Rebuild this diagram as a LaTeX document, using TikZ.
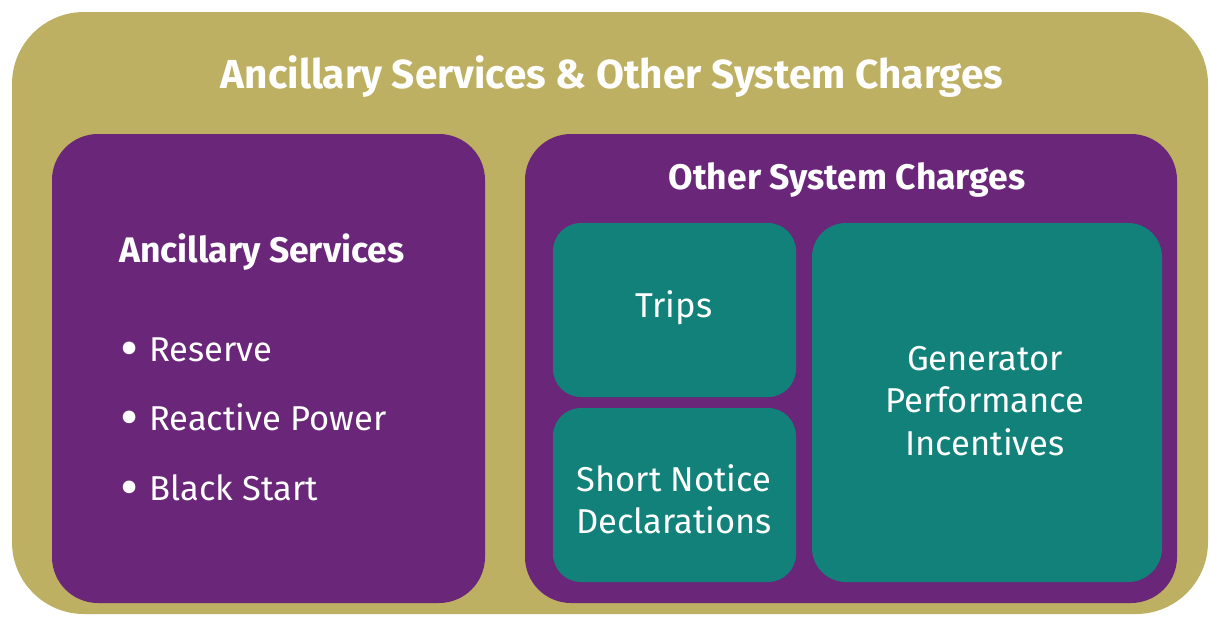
\documentclass[tikz,border=0pt]{standalone}
\usepackage{fontspec}
\setmainfont{Fira Sans}
\definecolor{gold}{HTML}{BDB062}
\definecolor{plum}{HTML}{6A2679}
\definecolor{teal}{HTML}{12817A}
% a larger list bullet, set on the x-height middle
\newcommand\listdot{\raisebox{-0.2em}{\fontsize{56}{56}\selectfont\textbullet}\hspace{11pt}}
\begin{document}
\begin{tikzpicture}[x=1pt,y=-1pt,
  panel/.style={fill=#1, draw=none},
  head/.style={text=white, font=\bfseries\fontsize{40.5}{46}\selectfont, anchor=center, inner sep=0pt},
  sub/.style={text=white, font=\bfseries\fontsize{35.5}{40}\selectfont, anchor=center, inner sep=0pt},
  body/.style={text=white, font=\fontsize{34.5}{42.5}\selectfont, align=center, anchor=center, inner sep=0pt},
  item/.style={text=white, font=\fontsize{34.5}{40}\selectfont, anchor=base west, inner sep=0pt}]
  \useasboundingbox (0,0) rectangle (1210,619);
  % outer frame
  \path[panel=gold, rounded corners=72pt] (12,12) rectangle (1208,614);
  % two purple groups
  \path[panel=plum, rounded corners=46pt] (52,134) rectangle (485,603);
  \path[panel=plum, rounded corners=46pt] (525,134) rectangle (1177,603);
  % teal boxes
  \path[panel=teal, rounded corners=28pt] (553,223) rectangle (796,397);
  \path[panel=teal, rounded corners=28pt] (553,408) rectangle (796,582);
  \path[panel=teal, rounded corners=34pt] (812,223) rectangle (1162,582);
  % titles
  \node[head] (title) at (612,77) {Ancillary Services \& Other System Charges};
  \node[sub] (osc) at (847,180) {Other System Charges};
  \node[sub, anchor=west] (anc) at (119,252) {Ancillary Services};
  % list
  \node[item] (r1) at (120,361) {\listdot Reserve};
  \node[item] (r2) at (120,430) {\listdot Reactive Power};
  \node[item] (r3) at (120,500) {\listdot Black Start};
  % box labels
  \node[body] (trips) at (674,308) {Trips};
  \node[body] (snd) at (674,499) {Short Notice\\Declarations};
  \node[body] (gpi) at (985,401) {Generator\\Performance\\Incentives};
\end{tikzpicture}
\end{document}
